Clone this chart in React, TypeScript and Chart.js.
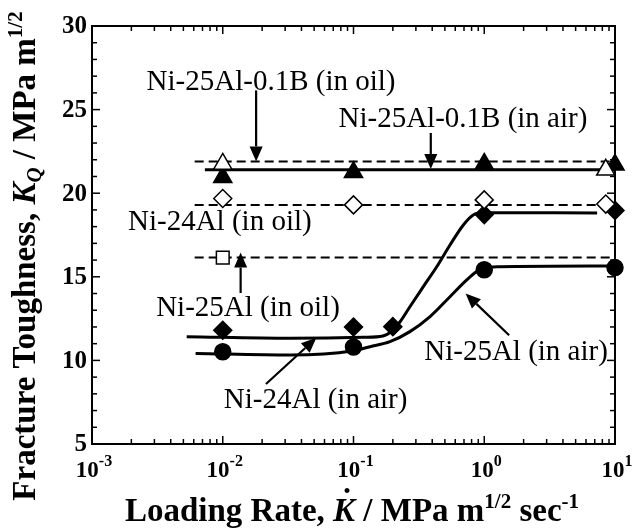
import React, { useEffect, useRef } from "react";
import { Chart, registerables } from "chart.js";

Chart.register(...registerables);

// ---- Axis ticks ----
const X_TICKS = [0.001, 0.01, 0.1, 1, 10];
const X_TICK_EXP = ["-3", "-2", "-1", "0", "1"];
const Y_TICKS = [5, 10, 15, 20, 25, 30];

// ---- Measured points ----
const B_OIL_X = [0.01, 8.5];
const B_OIL_Y = [21.75, 21.4];
const B_AIR_X = [0.01, 0.1, 1, 10];
const B_AIR_Y = [20.95, 21.25, 21.75, 21.7];
const AL24_OIL_X = [0.01, 0.1, 1, 8.5];
const AL24_OIL_Y = [19.68, 19.3, 19.6, 19.35];
const AL25_OIL_X = [0.01];
const AL25_OIL_Y = [16.15];
const AL24_AIR_X = [0.01, 0.1, 0.2, 1, 10];
const AL24_AIR_Y = [11.8, 12.0, 12.02, 18.72, 18.97];
const AL25_AIR_X = [0.01, 0.1, 1, 10];
const AL25_AIR_Y = [10.52, 10.8, 15.42, 15.55];

// ---- Fitted lines ----
const B_OIL_FIT_X = [0.0061, 10];
const B_OIL_FIT_Y = [21.9, 21.9];
const B_AIR_FIT_X = [0.0073, 10];
const B_AIR_FIT_Y = [21.4, 21.4];
const AL24_OIL_FIT_X = [0.0061, 10];
const AL24_OIL_FIT_Y = [19.3, 19.3];
const AL25_OIL_FIT_X = [0.0061, 10];
const AL25_OIL_FIT_Y = [16.15, 16.15];
const AL24_AIR_FIT_X = [0.0053, 0.033, 0.12, 0.168, 0.196, 0.227, 0.27, 0.342, 0.433, 0.547, 0.692, 0.824, 0.984, 7.3];
const AL24_AIR_FIT_Y = [11.42, 11.32, 11.38, 11.46, 11.75, 12.31, 13.21, 14.41, 15.6, 16.9, 18.1, 18.7, 18.83, 18.82];
const AL25_AIR_FIT_X = [0.0062, 0.033, 0.1, 0.134, 0.19, 0.27, 0.385, 0.547, 0.735, 0.875, 0.984, 1.3, 10];
const AL25_AIR_FIT_Y = [10.42, 10.32, 10.58, 10.82, 11.12, 11.72, 12.62, 13.81, 14.81, 15.31, 15.51, 15.6, 15.65];

// ---- Annotations (data coordinates) ----
const LABEL_TEXT = [
  "Ni-25Al-0.1B (in oil)",
  "Ni-25Al-0.1B (in air)",
  "Ni-24Al (in oil)",
  "Ni-25Al (in oil)",
  "Ni-25Al (in air)",
  "Ni-24Al (in air)",
];
const LABEL_X = [0.0234, 0.687, 0.0095, 0.0156, 1.75, 0.0513];
const LABEL_Y = [26.6, 24.4, 18.27, 13.1, 10.5, 7.58];

const ARROW_FROM_X = [0.018, 0.39, 0.0137, 0.0214, 1.55];
const ARROW_FROM_Y = [26.15, 23.6, 14.03, 8.59, 11.5];
const ARROW_TO_X = [0.018, 0.39, 0.0137, 0.052, 0.72];
const ARROW_TO_Y = [21.9, 21.45, 16.45, 11.35, 14.0];

const SERIF = '"Liberation Serif", "Times New Roman", serif';

const pts = (xs: number[], ys: number[]) => xs.map((x, i) => ({ x, y: ys[i] }));

type Seg = { t: string; font: string; dy: number };

function drawRich(ctx: CanvasRenderingContext2D, segs: Seg[], cx: number, baseline: number) {
  let total = 0;
  const widths = segs.map((s) => {
    ctx.font = s.font;
    const w = ctx.measureText(s.t).width;
    total += w;
    return w;
  });
  let x = cx - total / 2;
  ctx.textAlign = "left";
  ctx.textBaseline = "alphabetic";
  segs.forEach((s, i) => {
    ctx.font = s.font;
    ctx.fillText(s.t, x, baseline + s.dy);
    x += widths[i];
  });
  return { start: cx - total / 2, widths };
}

const annotPlugin = {
  id: "annot",
  beforeDatasetsDraw(chart: any) {
    const { ctx, chartArea: a, scales } = chart;
    const xs = scales.x;
    const ys = scales.y;
    ctx.save();
    ctx.strokeStyle = "#000";
    ctx.lineWidth = 1.5;
    const seg = (x0: number, y0: number, x1: number, y1: number) => {
      ctx.beginPath();
      ctx.moveTo(x0, y0);
      ctx.lineTo(x1, y1);
      ctx.stroke();
    };
    // y ticks every 1
    for (let v = Y_TICKS[0]; v <= Y_TICKS[Y_TICKS.length - 1]; v++) {
      const py = ys.getPixelForValue(v);
      const len = Y_TICKS.includes(v) ? 8 : 5;
      seg(a.left, py, a.left + len, py);
      seg(a.right, py, a.right - len, py);
    }
    // x log ticks
    for (let d = 0; d < X_TICKS.length - 1; d++) {
      for (let m = 1; m <= 9; m++) {
        const px = xs.getPixelForValue(X_TICKS[d] * m);
        const len = m === 1 ? 8 : 5;
        seg(px, a.bottom, px, a.bottom - len);
        seg(px, a.top, px, a.top + len);
      }
    }
    ctx.lineWidth = 2;
    ctx.strokeRect(a.left, a.top, a.right - a.left, a.bottom - a.top);
    ctx.restore();
  },
  afterDraw(chart: any) {
    const { ctx, chartArea: a, scales } = chart;
    const xs = scales.x;
    const ys = scales.y;
    ctx.save();
    ctx.fillStyle = "#000";
    ctx.strokeStyle = "#000";

    // y tick labels
    ctx.font = `bold 25px ${SERIF}`;
    ctx.textAlign = "right";
    ctx.textBaseline = "middle";
    Y_TICKS.forEach((v) => {
      ctx.fillText(String(v), a.left - 5, ys.getPixelForValue(v) + 1);
    });

    // x tick labels
    X_TICKS.forEach((v, i) => {
      const px = xs.getPixelForValue(v);
      drawRich(
        ctx,
        [
          { t: "10", font: `bold 23px ${SERIF}`, dy: 0 },
          { t: X_TICK_EXP[i], font: `bold 16px ${SERIF}`, dy: -11 },
        ],
        px + 2,
        477
      );
    });

    // x axis title
    const tf = `bold 33px ${SERIF}`;
    const tfi = `italic bold 33px ${SERIF}`;
    const sf = `bold 21px ${SERIF}`;
    const r = drawRich(
      ctx,
      [
        { t: "Loading Rate, ", font: tf, dy: 0 },
        { t: "K", font: tfi, dy: 0 },
        { t: " / MPa m", font: tf, dy: 0 },
        { t: "1/2", font: sf, dy: -13 },
        { t: " sec", font: tf, dy: 0 },
        { t: "-1", font: sf, dy: -13 },
      ],
      352,
      521
    );
    // dot over K
    const kx = r.start + r.widths[0] + r.widths[1] / 2 + 3;
    ctx.font = tf;
    ctx.textAlign = "center";
    ctx.fillText("\u02D9", kx, 511);

    // y axis title
    ctx.save();
    ctx.translate(35, 256);
    ctx.rotate(-Math.PI / 2);
    drawRich(
      ctx,
      [
        { t: "Fracture Toughness, ", font: tf, dy: 0 },
        { t: "K", font: tfi, dy: 0 },
        { t: "Q", font: `italic bold 21px ${SERIF}`, dy: 6 },
        { t: " / MPa m", font: tf, dy: 0 },
        { t: "1/2", font: sf, dy: -13 },
      ],
      0,
      0
    );
    ctx.restore();

    // annotation labels
    ctx.font = `29px ${SERIF}`;
    ctx.textAlign = "center";
    ctx.textBaseline = "middle";
    LABEL_TEXT.forEach((t, i) => {
      ctx.fillText(t, xs.getPixelForValue(LABEL_X[i]), ys.getPixelForValue(LABEL_Y[i]));
    });

    // arrows
    ARROW_FROM_X.forEach((fx, i) => {
      const x0 = xs.getPixelForValue(fx);
      const y0 = ys.getPixelForValue(ARROW_FROM_Y[i]);
      const x1 = xs.getPixelForValue(ARROW_TO_X[i]);
      const y1 = ys.getPixelForValue(ARROW_TO_Y[i]);
      const ang = Math.atan2(y1 - y0, x1 - x0);
      const hl = 15;
      const hw = 6.5;
      const bx = x1 - Math.cos(ang) * hl;
      const by = y1 - Math.sin(ang) * hl;
      ctx.lineWidth = 2.2;
      ctx.beginPath();
      ctx.moveTo(x0, y0);
      ctx.lineTo(bx, by);
      ctx.stroke();
      ctx.beginPath();
      ctx.moveTo(x1, y1);
      ctx.lineTo(bx - Math.sin(ang) * hw, by + Math.cos(ang) * hw);
      ctx.lineTo(bx + Math.sin(ang) * hw, by - Math.cos(ang) * hw);
      ctx.closePath();
      ctx.fill();
    });
    ctx.restore();
  },
};

export default function App() {
  const ref = useRef<HTMLCanvasElement | null>(null);
  useEffect(() => {
    if (!ref.current) return;
    const marker = (data: any, style: string, radius: number, filled: boolean) => ({
      data,
      showLine: false,
      pointStyle: style,
      pointRadius: radius,
      pointBackgroundColor: filled ? "#000" : "#fff",
      pointBorderColor: "#000",
      pointBorderWidth: 1.5,
      order: 0,
      clip: false,
    });
    const fit = (data: any, dashed: boolean) => ({
      data,
      showLine: true,
      pointRadius: 0,
      borderColor: "#000",
      borderWidth: dashed ? 2 : 3,
      borderDash: dashed ? [9, 5] : [],
      cubicInterpolationMode: "monotone",
      fill: false,
      order: 1,
      clip: false,
    });
    const chart = new Chart(ref.current, {
      type: "line",
      data: {
        datasets: [
          fit(pts(B_OIL_FIT_X, B_OIL_FIT_Y), true),
          fit(pts(B_AIR_FIT_X, B_AIR_FIT_Y), false),
          fit(pts(AL24_OIL_FIT_X, AL24_OIL_FIT_Y), true),
          fit(pts(AL25_OIL_FIT_X, AL25_OIL_FIT_Y), true),
          fit(pts(AL24_AIR_FIT_X, AL24_AIR_FIT_Y), false),
          fit(pts(AL25_AIR_FIT_X, AL25_AIR_FIT_Y), false),
          marker(pts(B_OIL_X, B_OIL_Y), "triangle", 10.5, false),
          marker(pts(B_AIR_X, B_AIR_Y), "triangle", 10.5, true),
          marker(pts(AL24_OIL_X, AL24_OIL_Y), "rectRot", 9, false),
          marker(pts(AL25_OIL_X, AL25_OIL_Y), "rect", 9, false),
          marker(pts(AL24_AIR_X, AL24_AIR_Y), "rectRot", 9, true),
          marker(pts(AL25_AIR_X, AL25_AIR_Y), "circle", 8, true),
        ] as any,
      },
      options: {
        responsive: false,
        animation: false,
        layout: { padding: { left: 92, top: 26, right: 17, bottom: 85 } },
        plugins: { legend: { display: false }, tooltip: { enabled: false } },
        events: [],
        scales: {
          x: { type: "logarithmic", min: 0.001, max: 10, display: false },
          y: { type: "linear", min: 5, max: 30, display: false },
        },
      } as any,
      plugins: [annotPlugin],
    });
    return () => chart.destroy();
  }, []);
  return (
    <div style={{ position: "fixed", left: 0, top: 0, width: 632, height: 529, background: "#fff" }}>
      <canvas ref={ref} width={632} height={529} />
    </div>
  );
}
